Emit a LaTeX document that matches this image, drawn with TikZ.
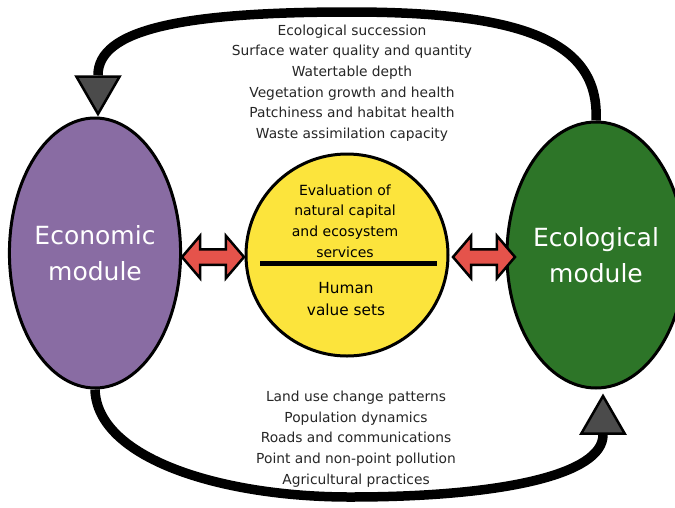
\documentclass[tikz,border=0pt]{standalone}
\usepackage{fontspec}
\setmainfont{DejaVu Sans}
\usetikzlibrary{shapes.geometric,shapes.arrows}
\definecolor{econ}{RGB}{137,108,163}
\definecolor{ecol}{RGB}{45,117,40}
\definecolor{evalyel}{RGB}{252,228,60}
\definecolor{linkred}{RGB}{229,83,75}
\definecolor{tri}{RGB}{75,75,75}
\tikzset{
  module/.style={ellipse, draw, line width=3pt, text=white, align=center, inner sep=0pt, font=\fontsize{25}{36}\selectfont},
  link/.style={double arrow, draw, line width=2.5pt, fill=linkred, minimum height=62pt, inner xsep=0pt, inner ysep=6.5pt, double arrow head extend=13.5pt, double arrow tip angle=99},
  marker/.style={regular polygon, regular polygon sides=3, draw, line width=2.5pt, fill=tri, minimum size=50pt, inner sep=0pt},
  factors/.style={align=center, font=\fontsize{13.8}{20.6}\selectfont, text=black!85},
  flow/.style={line width=9.5pt}
}
\begin{document}
\begin{tikzpicture}[x=1pt,y=-1pt]
  \useasboundingbox (0,0) rectangle (675,507);
  \node[module, fill=econ, minimum width=164pt, minimum height=270pt] (econ) at (95,253) {Economic\\module};
  \node[module, fill=ecol, minimum width=156pt, minimum height=266pt] (ecol) at (596,255) {Ecological\\module};
  \node[circle, draw, line width=3pt, fill=evalyel, minimum size=202pt] (eval) at (347,255) {};
  \node[align=center, font=\fontsize{14}{20.7}\selectfont] (capital) at (345,221) {Evaluation of\\natural capital\\and ecosystem\\services};
  \node[align=center, font=\fontsize{15.3}{22}\selectfont] (values) at (346,299) {Human\\value sets};
  \draw[line width=5pt] (260,263) -- (437,263);
  \node[link] (left) at (213,257) {};
  \node[link] (right) at (484,257) {};
  \node[marker, shape border rotate=180] (down) at (98,89) {};
  \node[marker] (up) at (603,421) {};
  \node[factors] (eco) at (352,83) {Ecological succession\\Surface water quality and quantity\\Watertable depth\\Vegetation growth and health\\Patchiness and habitat health\\Waste assimilation capacity};
  \node[factors] (soc) at (356,439) {Land use change patterns\\Population dynamics\\Roads and communications\\Point and non-point pollution\\Agricultural practices};
  \begin{scope}[flow]
    \draw (ecol.north) .. controls (600,40) and (520,12) .. (350,12) .. controls (180,12) and (98,30) .. (down.north);
    \draw (econ.south) .. controls (97,458) and (220,497) .. (350,497) .. controls (500,497) and (603,475) .. (up.south);
  \end{scope}
\end{tikzpicture}
\end{document}
